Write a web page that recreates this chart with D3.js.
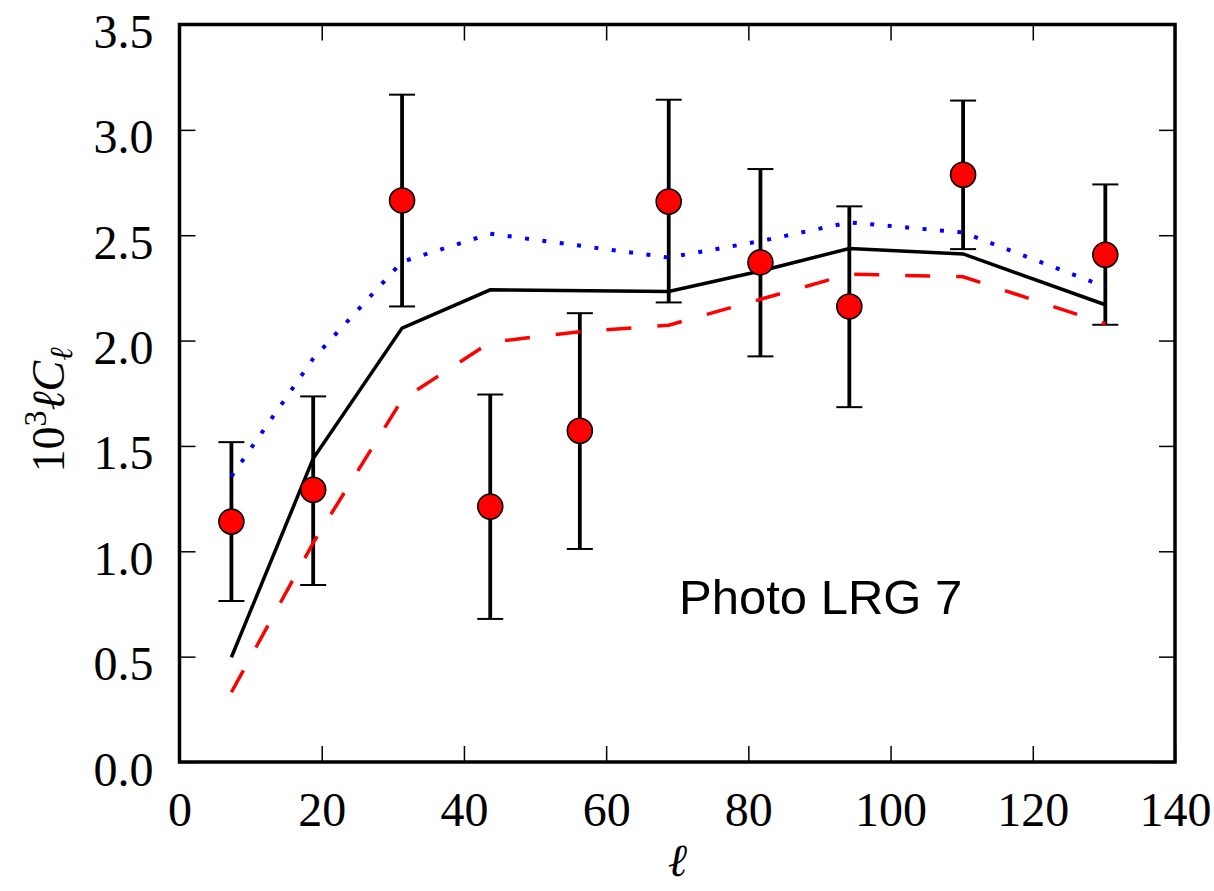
<!DOCTYPE html>
<html>
<head>
<style>
  body { margin: 0; background: #fff; }
  .tick text { font-family: "Liberation Serif", "DejaVu Serif", serif; font-size: 48px; fill: #000; }
</style>
<script src="https://d3js.org/d3.v7.min.js"></script>
</head>
<body>
<script>
// multipole bins and measured power
const ell = [7.3, 18.8, 31.3, 43.7, 56.3, 68.8, 81.7, 94.2, 110.2, 130.2];
const cl = [1.141, 1.292, 2.665, 1.212, 1.572, 2.660, 2.371, 2.162, 2.787, 2.407];
const errHi = [1.518, 1.735, 3.167, 1.744, 2.130, 3.143, 2.814, 2.637, 3.139, 2.741];
const errLo = [0.764, 0.840, 2.162, 0.679, 1.011, 2.181, 1.925, 1.684, 2.434, 2.075];

// model curves
const modelSolid = [0.497, 1.440, 2.059, 2.241, null, 2.233, 2.330, 2.437, 2.411, 2.170];
const modelDashed = [0.331, 1.040, 1.720, 1.992, 2.042, 2.073, 2.196, 2.315, 2.303, 2.080];
const modelDotted = [1.355, 1.914, 2.374, 2.507, null, 2.394, 2.472, 2.561, 2.513, 2.255];

const xTicks = [0, 20, 40, 60, 80, 100, 120, 140];
const yTicks = [0.0, 0.5, 1.0, 1.5, 2.0, 2.5, 3.0, 3.5];

const W = 1214, H = 891;
const svg = d3.select("body").append("svg").attr("width", W).attr("height", H);

const x = d3.scaleLinear().domain([0, 140]).range([179.5, 1175]);
const y = d3.scaleLinear().domain([0, 3.5]).range([762, 24.5]);

// axes, ticks inside
const gx = svg.append("g").attr("transform", `translate(0,${y(0)})`)
  .call(d3.axisBottom(x).tickValues(xTicks).tickSize(-16).tickFormat(d3.format("d")));
gx.selectAll("text").attr("y", 64).attr("dy", 0);
svg.append("g").attr("transform", `translate(0,${y(3.5)})`)
  .call(d3.axisTop(x).tickValues(xTicks).tickSize(-16).tickFormat(""));
const gy = svg.append("g").attr("transform", `translate(${x(0)},0)`)
  .call(d3.axisLeft(y).tickValues(yTicks).tickSize(-16).tickFormat(d3.format(".1f")));
gy.selectAll("text").attr("x", -26).attr("dy", 23);
svg.append("g").attr("transform", `translate(${x(140)},0)`)
  .call(d3.axisRight(y).tickValues(yTicks).tickSize(-16).tickFormat(""));
svg.selectAll(".domain").remove();
svg.selectAll(".tick line").attr("stroke", "#000").attr("stroke-width", 1.5);

// error bars
const eb = svg.append("g");
ell.forEach((l, i) => {
  eb.append("line").attr("x1", x(l)).attr("x2", x(l)).attr("y1", y(errLo[i])).attr("y2", y(errHi[i]))
    .attr("stroke", "#000").attr("stroke-width", 3.8);
  [errLo[i], errHi[i]].forEach(v => {
    eb.append("line").attr("x1", x(l) - 13).attr("x2", x(l) + 13).attr("y1", y(v)).attr("y2", y(v))
      .attr("stroke", "#000").attr("stroke-width", 2);
  });
});

// model lines
const line = d3.line().x(d => x(d[0])).y(d => y(d[1]));
const pts = arr => ell.map((l, i) => [l, arr[i]]).filter(d => d[1] !== null);
svg.append("path").attr("d", line(pts(modelDotted))).attr("fill", "none")
  .attr("stroke", "#0000ff").attr("stroke-width", 4).attr("stroke-dasharray", "4,13.5");
svg.append("path").attr("d", line(pts(modelSolid))).attr("fill", "none")
  .attr("stroke", "#000").attr("stroke-width", 3.5);
svg.append("path").attr("d", line(pts(modelDashed))).attr("fill", "none")
  .attr("stroke", "#ff0000").attr("stroke-width", 3.5).attr("stroke-dasharray", "25,26");

// data points
svg.append("g").selectAll("circle").data(ell).join("circle")
  .attr("cx", d => x(d)).attr("cy", (d, i) => y(cl[i])).attr("r", 12.5)
  .attr("fill", "#ff0000").attr("stroke", "#000").attr("stroke-width", 1.6);

// frame
svg.append("rect").attr("x", x(0)).attr("y", y(3.5)).attr("width", x(140) - x(0)).attr("height", y(0) - y(3.5))
  .attr("fill", "none").attr("stroke", "#000").attr("stroke-width", 3.5);

// annotation
svg.append("text").attr("x", 679).attr("y", 614)
  .attr("font-family", "Liberation Sans, Arial, sans-serif").attr("font-size", 49)
  .text("Photo LRG 7");

// axis labels
svg.append("text").attr("x", x(70)).attr("y", 876).attr("text-anchor", "middle")
  .attr("font-family", "Liberation Serif, serif").attr("font-style", "italic").attr("font-size", 46)
  .text("ℓ");

const yl = svg.append("text").attr("transform", "translate(64,410) rotate(-90)")
  .attr("text-anchor", "middle").attr("font-family", "Liberation Serif, serif").attr("font-size", 46);
yl.append("tspan").text("10");
yl.append("tspan").attr("dy", -18).attr("font-size", 32).text("3");
yl.append("tspan").attr("dy", 18).attr("font-style", "italic").text("ℓC");
yl.append("tspan").attr("dy", 8).attr("font-size", 32).attr("font-style", "italic").text("ℓ");
</script>
</body>
</html>
